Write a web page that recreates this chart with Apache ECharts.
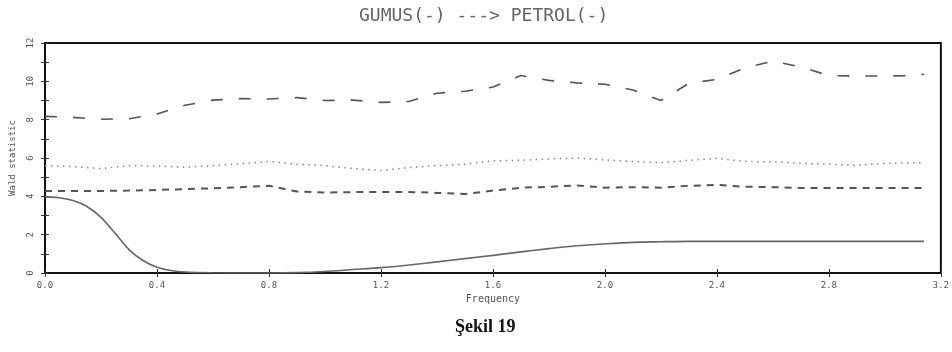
<!DOCTYPE html>
<html>
<head>
<meta charset="utf-8">
<script src="https://cdn.jsdelivr.net/npm/echarts@6/dist/echarts.min.js"></script>
<style>
  html, body { margin: 0; padding: 0; background: #fff; }
  #chart { width: 952px; height: 352px; }
</style>
</head>
<body>
<div id="chart"></div>
<script>
  // frequency grid (0 .. pi)
  const freq = [0.0, 0.1, 0.2, 0.3, 0.4, 0.5, 0.6, 0.7, 0.8, 0.9, 1.0, 1.1, 1.2, 1.3, 1.4, 1.5,
    1.6, 1.7, 1.8, 1.9, 2.0, 2.1, 2.2, 2.3, 2.4, 2.5, 2.6, 2.7, 2.8, 2.9, 3.0, 3.1, 3.14];

  // long dashed (top)
  const longDash = [8.17, 8.12, 8.02, 8.05, 8.3, 8.75, 9.02, 9.1, 9.08, 9.15, 9.0, 9.02, 8.9, 8.95, 9.38, 9.48,
    9.7, 10.3, 10.05, 9.92, 9.85, 9.55, 9.0, 9.9, 10.1, 10.7, 11.05, 10.75, 10.3, 10.28, 10.28, 10.3, 10.37];

  // dotted
  const dotted = [5.6, 5.55, 5.45, 5.6, 5.58, 5.52, 5.6, 5.7, 5.82, 5.68, 5.6, 5.45, 5.35, 5.5, 5.6, 5.68,
    5.85, 5.88, 5.95, 6.0, 5.9, 5.82, 5.75, 5.88, 5.98, 5.82, 5.8, 5.72, 5.68, 5.62, 5.72, 5.75, 5.75];

  // short dashed
  const shortDash = [4.28, 4.28, 4.28, 4.3, 4.33, 4.38, 4.42, 4.48, 4.55, 4.25, 4.2, 4.22, 4.23, 4.23, 4.18, 4.12,
    4.3, 4.45, 4.5, 4.57, 4.45, 4.48, 4.45, 4.55, 4.6, 4.5, 4.48, 4.44, 4.44, 4.44, 4.44, 4.44, 4.44];

  // solid, on its own finer grid where it drops
  const freqSolid = [0.0, 0.05, 0.1, 0.15, 0.2, 0.25, 0.3, 0.35, 0.4, 0.45, 0.5, 0.6, 0.7, 0.8, 0.9, 1.0,
    1.1, 1.2, 1.3, 1.4, 1.5, 1.6, 1.7, 1.8, 1.9, 2.0, 2.1, 2.2, 2.3, 2.4, 2.6, 2.8, 3.0, 3.14];
  const solid = [3.97, 3.93, 3.78, 3.47, 2.9, 2.08, 1.22, 0.65, 0.3, 0.13, 0.05, 0.01, 0.0, 0.0, 0.02, 0.08,
    0.18, 0.28, 0.42, 0.58, 0.75, 0.92, 1.1, 1.27, 1.42, 1.52, 1.6, 1.63, 1.65, 1.65, 1.65, 1.65, 1.65, 1.65];

  const xTicks = ['0.0', '0.4', '0.8', '1.2', '1.6', '2.0', '2.4', '2.8', '3.2'];
  const yTicks = ['0', '2', '4', '6', '8', '10', '12'];

  const pairs = (xs, arr) => xs.map((f, i) => [f, arr[i]]);
  const mono = 'DejaVu Sans Mono';

  const chart = echarts.init(document.getElementById('chart'));
  const option = {
    animation: false,
    grid: { left: 42, right: 9, top: 43, bottom: 79, show: true, borderColor: '#111', borderWidth: 2 },
    xAxis: [{
      type: 'value', min: 0, max: 3.2, interval: 0.4,
      name: 'Frequency', nameLocation: 'middle', nameGap: 21,
      nameTextStyle: { fontFamily: mono, fontSize: 10, color: '#555' },
      axisLine: { lineStyle: { color: '#111', width: 2 } },
      axisTick: { inside: true, length: 4, lineStyle: { color: '#333' } },
      axisLabel: { fontFamily: mono, fontSize: 9, color: '#555', margin: 8,
        formatter: (v, i) => xTicks[i] },
      splitLine: { show: false }
    }, {
      type: 'value', position: 'top', min: 0, max: 3.2, interval: 0.4,
      axisLine: { show: true, lineStyle: { color: '#111', width: 2 } },
      axisTick: { inside: true, length: 4, lineStyle: { color: '#333' } },
      axisLabel: { show: false },
      splitLine: { show: false }
    }],
    yAxis: [{
      type: 'value', min: 0, max: 12, interval: 2,
      name: 'Wald statistic', nameLocation: 'middle', nameGap: 28,
      nameTextStyle: { fontFamily: mono, fontSize: 9, color: '#555' },
      axisLine: { show: true, lineStyle: { color: '#111', width: 2 } },
      axisTick: { inside: true, length: 4, lineStyle: { color: '#333' } },
      minorTick: { show: true, splitNumber: 2, length: 4, lineStyle: { color: '#333' } },
      axisLabel: { fontFamily: mono, fontSize: 9, color: '#555', rotate: 90, margin: 10,
        formatter: (v, i) => yTicks[i] },
      splitLine: { show: false }
    }, {
      type: 'value', position: 'right', min: 0, max: 12, interval: 2,
      axisLine: { show: true, lineStyle: { color: '#111', width: 2 } },
      axisTick: { inside: true, length: 4, lineStyle: { color: '#333' } },
      minorTick: { show: true, splitNumber: 2, length: 4, lineStyle: { color: '#333' } },
      axisLabel: { show: false },
      splitLine: { show: false }
    }],
    graphic: [{
      type: 'text', left: 491 - 132, top: 7,
      style: { text: 'GUMUS(-) ---> PETROL(-)', fontFamily: mono, fontSize: 18, fill: '#666' }
    }, {
      type: 'text', left: 455, top: 318,
      style: { text: 'Şekil 19', fontFamily: 'Liberation Serif', fontSize: 18, fontWeight: 'bold', fill: '#111' }
    }],
    series: [{
      type: 'line', data: pairs(freq, longDash), symbol: 'none',
      lineStyle: { color: '#555', width: 1.6, type: [12, 16] }
    }, {
      type: 'line', data: pairs(freq, dotted), symbol: 'none',
      lineStyle: { color: '#888', width: 1.5, type: [1.5, 4.5] }
    }, {
      type: 'line', data: pairs(freq, shortDash), symbol: 'none',
      lineStyle: { color: '#555', width: 2, type: [7, 6] }
    }, {
      type: 'line', data: pairs(freqSolid, solid), symbol: 'none', smooth: 0.3,
      lineStyle: { color: '#666', width: 1.6 }
    }]
  };
  chart.setOption(option);
</script>
</body>
</html>
